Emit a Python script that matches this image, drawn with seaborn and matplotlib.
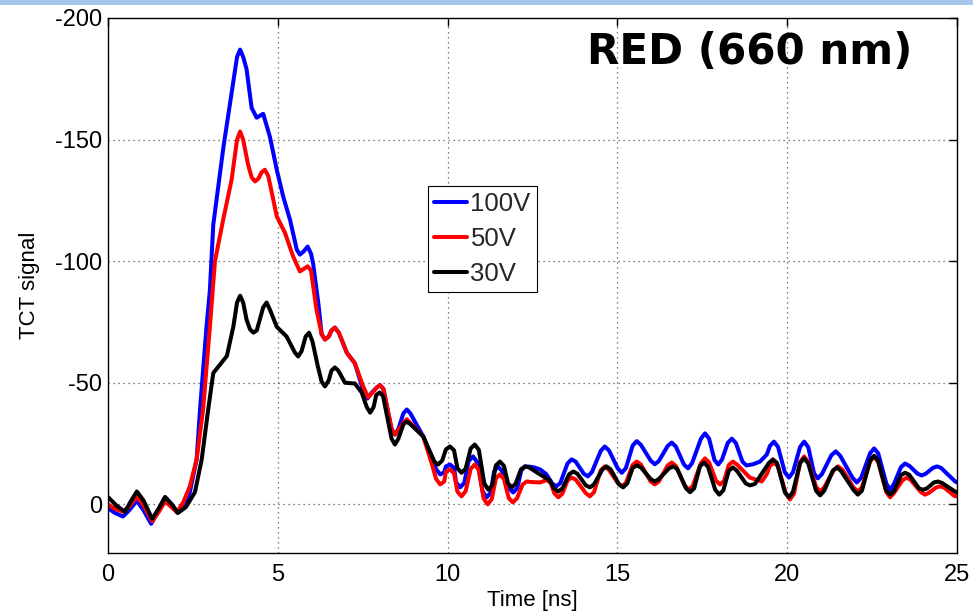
import matplotlib
matplotlib.use("Agg")
import matplotlib.pyplot as plt
from matplotlib.patches import Rectangle
import seaborn as sns
import pandas as pd

# ---- data: (time [ns], TCT signal) ----
pts_100V = [
    (0.0, 1.5), (0.2, 3.5), (0.44, 5), (0.62, 2.5), (0.85, -1.5), (1.05, 2.5), (1.27, 8),
    (1.47, 3), (1.68, -3), (1.88, 0), (2.05, 3.5), (2.25, 1.5), (2.41, -5), (2.61, -18.5),
    (2.71, -39), (2.9, -73), (3.0, -88), (3.1, -115), (3.4, -147), (3.65, -170), (3.8, -184),
    (3.89, -187), (3.98, -184), (4.08, -179), (4.23, -163), (4.38, -159), (4.57, -160.6),
    (4.77, -151), (4.97, -137.6), (5.16, -126.5), (5.36, -117), (5.56, -104.7), (5.65, -102.7),
    (5.76, -104), (5.88, -106), (5.98, -103), (6.04, -99), (6.2, -82), (6.29, -70), (6.39, -67.8),
    (6.5, -69), (6.58, -71.5), (6.68, -72.7), (6.8, -70.5), (7.03, -62.4), (7.27, -58),
    (7.5, -47.5), (7.64, -43.5), (7.74, -45.5), (7.91, -48), (8.01, -49), (8.11, -47.5),
    (8.35, -31), (8.45, -28.7), (8.55, -31), (8.7, -37.5), (8.8, -39), (8.9, -37.5),
    (9.28, -28), (9.55, -19), (9.66, -14.5), (9.78, -12.3), (9.9, -13.2), (9.95, -15.6),
    (10.07, -16.4), (10.19, -15.0), (10.25, -9), (10.37, -7), (10.49, -8.8), (10.62, -17.8),
    (10.75, -19.7), (10.88, -17.2), (11.03, -5.4), (11.15, -2.9), (11.27, -4.8), (11.37, -13.6),
    (11.48, -15.6), (11.6, -13.8), (11.81, -6.6), (11.93, -4.9), (12.05, -6.6), (12.17, -14.0),
    (12.28, -15.6), (12.4, -15.5), (12.55, -15.2), (12.72, -14.4), (12.9, -12.5), (13.08, -8.6),
    (13.2, -7.4), (13.32, -8.8), (13.53, -16.8), (13.65, -18.5), (13.77, -17.6), (14.01, -12.6),
    (14.13, -11.5), (14.25, -13.3), (14.51, -22.0), (14.63, -23.8), (14.75, -22.2),
    (15.01, -14.8), (15.13, -13), (15.25, -14.9), (15.45, -24.2), (15.57, -26), (15.69, -24.5),
    (15.98, -18), (16.1, -16.5), (16.22, -17.8), (16.48, -24), (16.6, -25.4), (16.72, -23.8),
    (16.96, -16.4), (17.08, -14.8), (17.2, -17), (17.46, -27), (17.58, -29.2), (17.7, -27),
    (17.86, -18.2), (17.97, -16.4), (18.08, -18.4), (18.25, -25.3), (18.37, -27), (18.49, -25.2),
    (18.68, -17.6), (18.8, -16), (19.0, -16.5), (19.2, -17.6), (19.4, -20.5), (19.49, -24),
    (19.61, -25.8), (19.73, -23.6), (19.93, -13.2), (20.05, -11), (20.17, -13.2), (20.38, -23.6),
    (20.5, -25.8), (20.62, -23.5), (20.79, -12.8), (20.9, -10.7), (21.02, -12.4), (21.3, -20.2),
    (21.43, -21.8), (21.56, -20), (21.92, -11), (22.05, -9), (22.18, -11), (22.44, -21),
    (22.56, -23), (22.68, -21), (22.92, -8.5), (23.03, -6), (23.14, -8.3), (23.35, -15.3),
    (23.47, -16.8), (23.6, -15.8), (23.84, -12.6), (23.96, -11.9), (24.08, -12.6), (24.29, -15),
    (24.41, -15.6), (24.53, -15), (24.94, -9.5), (25.0, -9),
]

pts_50V = [
    (0.0, 0), (0.2, 1.8), (0.44, 3), (0.62, 1), (0.85, -3.3), (1.05, 0.5), (1.3, 7), (1.5, 3),
    (1.68, -1.2), (1.86, 1), (2.03, 3.3), (2.22, -1), (2.41, -7.4), (2.61, -18.5), (2.8, -39),
    (3.0, -73), (3.15, -100), (3.39, -117), (3.64, -133.5), (3.8, -150), (3.89, -153.3),
    (3.98, -150), (4.12, -140), (4.23, -134.5), (4.33, -132.8), (4.43, -134), (4.52, -136.5),
    (4.62, -137.6), (4.72, -135), (4.97, -118.4), (5.21, -111.7), (5.45, -102), (5.65, -95.8),
    (5.76, -96.8), (5.88, -97.9), (5.98, -96), (6.14, -80), (6.29, -70), (6.39, -67.8),
    (6.5, -69), (6.58, -71.5), (6.68, -72.7), (6.8, -70.5), (7.03, -62.4), (7.27, -58),
    (7.5, -49), (7.66, -44), (7.76, -45.5), (7.91, -48), (8.01, -49), (8.11, -47.5),
    (8.35, -31), (8.45, -28.7), (8.55, -30.5), (8.7, -33.5), (8.8, -35), (8.9, -33.5),
    (9.28, -28), (9.55, -16), (9.66, -10.5), (9.78, -8.2), (9.9, -9.4), (9.95, -13.4),
    (10.07, -14.4), (10.19, -12.8), (10.29, -5.2), (10.41, -3.3), (10.53, -5.4), (10.68, -14.6),
    (10.8, -16.4), (10.92, -14.2), (11.06, -2.4), (11.18, 0), (11.3, -2.2), (11.42, -10.6),
    (11.54, -12.3), (11.66, -10.4), (11.8, -2.6), (11.92, -0.8), (12.04, -2.4), (12.21, -8.2),
    (12.33, -9.4), (12.45, -9.2), (12.72, -9), (12.92, -10), (13.04, -8.8), (13.14, -4.6),
    (13.26, -2.9), (13.38, -4.4), (13.53, -9.8), (13.65, -11), (13.77, -10.2), (14.07, -4.6),
    (14.19, -3.3), (14.31, -5), (14.51, -14), (14.63, -15.6), (14.75, -14.2), (15.01, -8.8),
    (15.13, -7.4), (15.25, -8.8), (15.45, -16.2), (15.57, -17.6), (15.69, -16.4), (15.98, -9.4),
    (16.1, -8.2), (16.22, -9.4), (16.48, -16), (16.6, -17.2), (16.72, -15.8), (16.98, -7.8),
    (17.1, -6), (17.22, -7.6), (17.46, -17), (17.58, -18.9), (17.7, -17.2), (17.9, -9.8),
    (18.02, -8.2), (18.14, -9.6), (18.28, -16.2), (18.4, -17.6), (18.52, -16.4), (18.9, -11),
    (19.25, -9.4), (19.4, -12.5), (19.49, -15.8), (19.61, -17.2), (19.73, -15.6), (19.96, -4.4),
    (20.08, -2), (20.2, -4.4), (20.38, -17.4), (20.5, -19.7), (20.62, -17.4), (20.85, -7.2),
    (20.97, -5.3), (21.09, -7), (21.37, -14), (21.5, -15.6), (21.63, -14.2), (21.95, -7),
    (22.08, -5.3), (22.2, -7), (22.44, -17.6), (22.56, -19.7), (22.68, -17.4), (22.92, -5),
    (23.03, -2.9), (23.14, -4.6), (23.4, -10), (23.52, -11), (23.64, -10), (23.94, -5),
    (24.06, -4), (24.18, -4.8), (24.38, -6.9), (24.5, -7.4), (24.62, -6.9), (24.94, -3.3),
    (25.0, -3.5),
]

pts_30V = [
    (0.0, -3), (0.25, 0.5), (0.5, 3), (0.66, -1), (0.85, -5.3), (1.05, -1.5), (1.3, 6),
    (1.5, 1.5), (1.68, -3), (1.88, 0), (2.06, 3.5), (2.3, 1), (2.56, -5), (2.76, -18.5),
    (2.95, -39), (3.1, -54), (3.3, -57.5), (3.5, -61), (3.69, -73), (3.8, -83), (3.89, -85.8),
    (3.98, -83), (4.08, -76), (4.18, -72), (4.28, -70.6), (4.38, -71.5), (4.57, -81),
    (4.67, -83), (4.77, -80), (4.97, -73), (5.26, -69), (5.5, -62.5), (5.6, -60.8), (5.7, -63),
    (5.82, -69), (5.92, -70.6), (6.02, -67), (6.18, -56.7), (6.29, -50.5), (6.39, -48.5),
    (6.5, -51), (6.58, -55), (6.68, -56.3), (6.78, -55), (6.98, -50), (7.27, -49.7),
    (7.47, -46), (7.62, -40), (7.72, -37.7), (7.82, -40), (7.9, -45), (8.0, -46), (8.1, -44.5),
    (8.35, -27), (8.45, -24.6), (8.55, -27), (8.7, -33), (8.8, -34), (8.9, -33), (9.28, -28),
    (9.5, -21), (9.62, -17.4), (9.72, -16.4), (9.84, -18), (9.95, -22.6), (10.07, -23.8),
    (10.19, -22.2), (10.29, -14.8), (10.41, -13), (10.53, -14.6), (10.68, -23), (10.8, -24.6),
    (10.92, -22.4), (11.08, -8.6), (11.2, -6), (11.32, -8), (11.42, -16), (11.54, -17.6),
    (11.66, -15.8), (11.78, -8.6), (11.89, -7), (12.0, -8.4), (12.16, -14.4), (12.28, -15.6),
    (12.4, -15.2), (12.72, -12.3), (13.0, -10), (13.14, -6.4), (13.26, -5.3), (13.38, -6.6),
    (13.58, -12.4), (13.7, -13.5), (13.82, -12.6), (14.07, -7.8), (14.19, -7), (14.31, -8.2),
    (14.56, -14.4), (14.68, -15.6), (14.8, -14.4), (15.05, -8.2), (15.17, -7), (15.29, -8.6),
    (15.45, -15), (15.57, -16), (15.69, -15.2), (15.98, -10.4), (16.1, -9.4), (16.22, -10.4),
    (16.52, -14.8), (16.64, -15.6), (16.76, -14.6), (17.02, -6.6), (17.14, -5), (17.26, -6.6),
    (17.43, -15.6), (17.55, -17.2), (17.67, -15.4), (17.88, -6), (18.0, -4), (18.12, -5.8),
    (18.28, -13.8), (18.4, -15.2), (18.52, -13.8), (18.78, -8.6), (18.9, -7.8), (19.05, -8.4),
    (19.46, -17), (19.58, -18.5), (19.7, -17), (19.93, -5), (20.05, -2.9), (20.17, -5.2),
    (20.38, -17), (20.5, -18.9), (20.62, -16.8), (20.85, -5.6), (20.97, -3.7), (21.09, -5.6),
    (21.34, -13.8), (21.46, -15.2), (21.58, -13.8), (21.96, -5.8), (22.08, -4), (22.2, -5.6),
    (22.44, -18), (22.56, -20), (22.68, -17.8), (22.91, -5.8), (23.03, -4), (23.15, -5.6),
    (23.35, -12), (23.47, -13), (23.59, -12.2), (23.88, -6.6), (24.0, -6), (24.12, -6.6),
    (24.32, -9), (24.44, -9.4), (24.56, -8.8), (24.94, -5.3), (25.0, -5),
]

labels = ["100V", "50V", "30V"]
colors = ["#0000ff", "#ff0000", "#000000"]
x_ticks = [0, 5, 10, 15, 20, 25]
y_ticks = [-200, -150, -100, -50, 0]

frames = []
for lab, pts in zip(labels, [pts_100V, pts_50V, pts_30V]):
    frames.append(pd.DataFrame({"t": [p[0] for p in pts], "v": [p[1] for p in pts],
                                "series": lab}))
df = pd.concat(frames, ignore_index=True)

sns.set_theme(style="white")
plt.rcParams["font.family"] = ["Liberation Sans", "DejaVu Sans"]

fig = plt.figure(figsize=(9.73, 6.15), dpi=100)
ax = fig.add_axes([108 / 973, 1 - 553 / 615, (957 - 108) / 973, (553 - 18) / 615])

sns.lineplot(data=df, x="t", y="v", hue="series", hue_order=labels,
             palette=dict(zip(labels, colors)), sort=False, estimator=None,
             linewidth=2.9, ax=ax)
for ln in ax.lines:
    ln.set_solid_joinstyle("round")
    ln.set_solid_capstyle("round")

ax.set_xlim(0, 25)
ax.set_ylim(20, -200)
ax.set_xticks(x_ticks)
ax.set_yticks(y_ticks)
ax.set_xticklabels([str(v) for v in x_ticks])
ax.set_yticklabels([str(v) for v in y_ticks])
ax.grid(True, linestyle=(0, (1, 3)), color="#555555", linewidth=0.9)
ax.set_axisbelow(True)
for s in ax.spines.values():
    s.set_color("black")
    s.set_linewidth(1.0)
    s.set_visible(True)
ax.tick_params(direction="in", length=6, width=1, top=True, right=True,
               labelsize=17, colors="black")
ax.tick_params(axis="y", pad=4)
ax.tick_params(axis="x", pad=8)
ax.set_xlabel("Time [ns]", fontsize=16, color="black", labelpad=3)
ax.set_ylabel("TCT signal", fontsize=16, color="black", labelpad=11)

leg = ax.legend(loc="upper left", bbox_to_anchor=(0.377, 0.686), borderaxespad=0,
                fontsize=18.5, frameon=True, fancybox=False, framealpha=1,
                edgecolor="black", handlelength=1.25, handletextpad=0.15,
                borderpad=0.25, labelspacing=0.42, title=None)
leg.get_frame().set_linewidth(0.8)
for h in leg.get_lines():
    h.set_linewidth(2.9)

ax.text(0.947, 0.975, "RED (660 nm)", transform=ax.transAxes, ha="right", va="top",
        fontsize=30.3, fontweight="bold", family="DejaVu Sans", color="black")

fig.patches.append(Rectangle((0, 1 - 5 / 615), 1, 5 / 615, transform=fig.transFigure,
                             facecolor="#a9c6ee", edgecolor="none"))

fig.savefig("out.png", dpi=100)
